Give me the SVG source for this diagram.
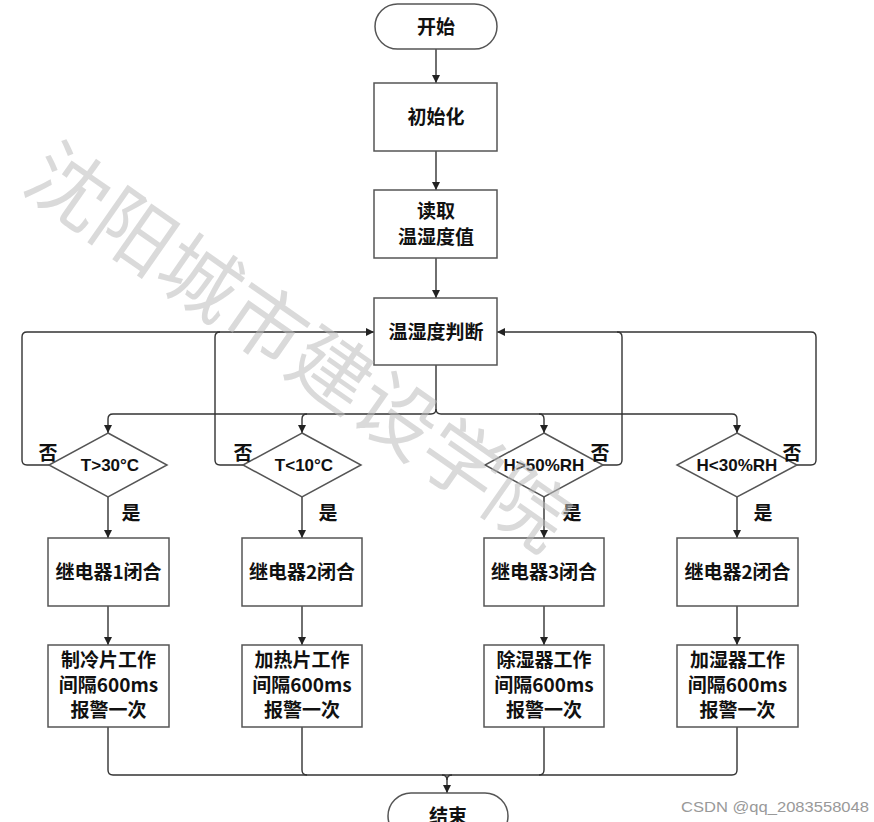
<svg xmlns="http://www.w3.org/2000/svg" width="874" height="822" viewBox="0 0 874 822">
<style>
.box{fill:#fff;stroke:#555;stroke-width:1.5}
.ln{fill:none;stroke:#333;stroke-width:1.4}
.t{font-family:"Noto Sans CJK SC","Liberation Sans",sans-serif;font-weight:bold;font-size:19px;fill:#111;text-anchor:middle}
.d{font-family:"Liberation Sans","Noto Sans CJK SC",sans-serif;font-weight:bold;font-size:17px;fill:#111;text-anchor:middle}
.wm{font-family:"Noto Sans CJK SC",sans-serif;font-size:80px;fill:#bbb;fill-opacity:0.55;text-anchor:middle}
.cs{font-family:"Liberation Sans",sans-serif;font-size:15px;fill:#999}
</style>
<defs>
<marker id="ah" viewBox="0 0 10 10" refX="10" refY="5" markerWidth="8" markerHeight="8" markerUnits="userSpaceOnUse" orient="auto">
<path d="M0,0 L10,5 L0,10 z" fill="#222"/>
</marker>
</defs>
<rect width="874" height="822" fill="#fff"/>
<g id="connectors">
<path class="ln" d="M436,49 V83" marker-end="url(#ah)"/>
<path class="ln" d="M436,151 V190" marker-end="url(#ah)"/>
<path class="ln" d="M436,258 V298" marker-end="url(#ah)"/>
<path class="ln" d="M436,365 V409 Q436,414 431,414 H113 Q108,414 108,419 V433" marker-end="url(#ah)"/>
<path class="ln" d="M436,409 Q436,414 441,414 H732 Q737,414 737,419 V433" marker-end="url(#ah)"/>
<path class="ln" d="M307,414 Q302,414 302,419 V433" marker-end="url(#ah)"/>
<path class="ln" d="M539,414 Q544,414 544,419 V433" marker-end="url(#ah)"/>
<path class="ln" d="M49,465 H27 Q22,465 22,460 V337 Q22,332 27,332 H374" marker-end="url(#ah)"/>
<path class="ln" d="M243,465 H220 Q215,465 215,460 V337 Q215,332 220,332"/>
<path class="ln" d="M603,465 H617 Q622,465 622,460 V337 Q622,332 617,332"/>
<path class="ln" d="M797,465 H811 Q816,465 816,460 V337 Q816,332 811,332 H497" marker-end="url(#ah)"/>
<path class="ln" d="M108,497 V538" marker-end="url(#ah)"/>
<path class="ln" d="M302,497 V538" marker-end="url(#ah)"/>
<path class="ln" d="M544,497 V538" marker-end="url(#ah)"/>
<path class="ln" d="M737,497 V538" marker-end="url(#ah)"/>
<path class="ln" d="M108,606 V645" marker-end="url(#ah)"/>
<path class="ln" d="M302,606 V645" marker-end="url(#ah)"/>
<path class="ln" d="M544,606 V645" marker-end="url(#ah)"/>
<path class="ln" d="M737,606 V645" marker-end="url(#ah)"/>
<path class="ln" d="M108,727 V770 Q108,775 113,775 H732 Q737,775 737,770 V727"/>
<path class="ln" d="M302,727 V770 Q302,775 307,775"/>
<path class="ln" d="M544,727 V770 Q544,775 539,775"/>
<path class="ln" d="M442,775 Q447,775 447,780 V793" marker-end="url(#ah)"/>
<path class="ln" d="M452,775 Q447,775 447,780"/>
</g>
<g id="start">
<rect class="box" x="375" y="4" width="122" height="45" rx="22.5"/>
<text class="t" x="436" y="34">开始</text>
</g>
<g id="init">
<rect class="box" x="374" y="83" width="123" height="68"/>
<text class="t" x="436" y="124">初始化</text>
</g>
<g id="read">
<rect class="box" x="374" y="190" width="123" height="68"/>
<text class="t" x="436" y="218">读取</text>
<text class="t" x="436" y="244">温湿度值</text>
</g>
<g id="judge">
<rect class="box" x="374" y="298" width="123" height="67"/>
<text class="t" x="436" y="339">温湿度判断</text>
</g>
<g id="d1">
<polygon class="box" points="108,433 167,465 108,497 49,465"/>
<text class="d" x="110" y="471">T&gt;30°C</text>
<text class="t" x="48" y="460">否</text>
<text class="t" x="131" y="520">是</text>
</g>
<g id="d2">
<polygon class="box" points="302,433 361,465 302,497 243,465"/>
<text class="d" x="304" y="471">T&lt;10°C</text>
<text class="t" x="243" y="460">否</text>
<text class="t" x="328" y="520">是</text>
</g>
<g id="d3">
<polygon class="box" points="544,433 603,465 544,497 485,465"/>
<text class="d" x="544" y="471">H&gt;50%RH</text>
<text class="t" x="600" y="460">否</text>
<text class="t" x="572" y="520">是</text>
</g>
<g id="d4">
<polygon class="box" points="737,433 797,465 737,497 677,465"/>
<text class="d" x="737" y="471">H&lt;30%RH</text>
<text class="t" x="792" y="460">否</text>
<text class="t" x="763" y="520">是</text>
</g>
<g id="r1">
<rect class="box" x="48" y="538" width="121" height="68"/>
<text class="t" x="108.5" y="579">继电器1闭合</text>
</g>
<g id="r2">
<rect class="box" x="242" y="538" width="120" height="68"/>
<text class="t" x="302" y="579">继电器2闭合</text>
</g>
<g id="r3">
<rect class="box" x="484" y="538" width="120" height="68"/>
<text class="t" x="544" y="579">继电器3闭合</text>
</g>
<g id="r4">
<rect class="box" x="677" y="538" width="121" height="68"/>
<text class="t" x="737.5" y="579">继电器2闭合</text>
</g>
<g id="w1">
<rect class="box" x="48" y="645" width="121" height="82"/>
<text class="t" x="108.5" y="667">制冷片工作</text>
<text class="t" x="108.5" y="692">间隔600ms</text>
<text class="t" x="108.5" y="717">报警一次</text>
</g>
<g id="w2">
<rect class="box" x="242" y="645" width="120" height="82"/>
<text class="t" x="302" y="667">加热片工作</text>
<text class="t" x="302" y="692">间隔600ms</text>
<text class="t" x="302" y="717">报警一次</text>
</g>
<g id="w3">
<rect class="box" x="484" y="645" width="120" height="82"/>
<text class="t" x="544" y="667">除湿器工作</text>
<text class="t" x="544" y="692">间隔600ms</text>
<text class="t" x="544" y="717">报警一次</text>
</g>
<g id="w4">
<rect class="box" x="677" y="645" width="121" height="82"/>
<text class="t" x="737.5" y="667">加湿器工作</text>
<text class="t" x="737.5" y="692">间隔600ms</text>
<text class="t" x="737.5" y="717">报警一次</text>
</g>
<g id="end">
<rect class="box" x="388" y="793" width="120" height="46" rx="23"/>
<text class="t" x="448" y="823">结束</text>
</g>
<text class="wm" x="298" y="376" transform="rotate(35 298 348)">沈阳城市建设学院</text>
<text class="cs" x="681" y="812" textLength="188" lengthAdjust="spacingAndGlyphs">CSDN @qq_2083558048</text>
</svg>
